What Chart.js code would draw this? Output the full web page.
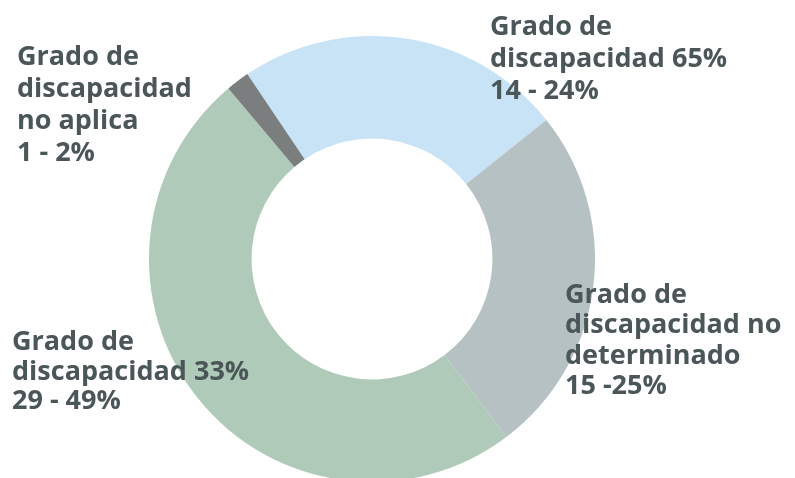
<!DOCTYPE html>
<html>
<head>
<meta charset="utf-8">
<script src="https://cdn.jsdelivr.net/npm/chart.js@4.4.1/dist/chart.umd.min.js"></script>
<style>
  html, body { margin: 0; padding: 0; width: 795px; height: 478px; overflow: hidden; background: #fff; }
  #wrap { position: absolute; left: 149px; top: 36px; width: 446px; height: 446px; }
  .lbl { position: absolute; font-family: "Open Sans", sans-serif; font-weight: 700; font-size: 27px;
         color: #4a5657; white-space: nowrap; }
</style>
</head>
<body>
<div id="wrap"><canvas id="donut"></canvas></div>

<script>
// datos del gráfico (orden horario desde arriba)
const categories = ['Grado de\ndiscapacidad 65%', 'Grado de\ndiscapacidad no\ndeterminado', 'Grado de\ndiscapacidad 33%', 'Grado de\ndiscapacidad\nno aplica'];
const counts = [14, 15, 29, 1];
const percentLabels = ['14 - 24%', '15 -25%', '29 - 49%', '1 - 2%'];
const colors = ['#c7e3f5', '#b5c1c2', '#afcab8', '#7a7e7f'];

// posición de cada etiqueta (left, top, line-height)
const labelPos = [
  { left: 490, top: 9, lh: 32 },
  { left: 565, top: 278, lh: 30.3 },
  { left: 12, top: 325, lh: 29.5 },
  { left: 17, top: 39, lh: 32 }
];

categories.forEach((cat, i) => {
  const d = document.createElement('div');
  d.className = 'lbl';
  d.style.left = labelPos[i].left + 'px';
  d.style.top = labelPos[i].top + 'px';
  d.style.lineHeight = labelPos[i].lh + 'px';
  d.innerText = cat + '\n' + percentLabels[i];
  document.body.appendChild(d);
});

const ctx = document.getElementById('donut').getContext('2d');
new Chart(ctx, {
  type: 'doughnut',
  data: {
    labels: categories.map(c => c.replace(/\n/g, ' ')),
    datasets: [{
      data: counts,
      backgroundColor: colors,
      borderWidth: 0
    }]
  },
  options: {
    responsive: true,
    maintainAspectRatio: false,
    animation: false,
    cutout: '54%',
    rotation: -34,
    plugins: {
      legend: { display: false },
      tooltip: { enabled: false }
    }
  }
});
</script>
</body>
</html>
